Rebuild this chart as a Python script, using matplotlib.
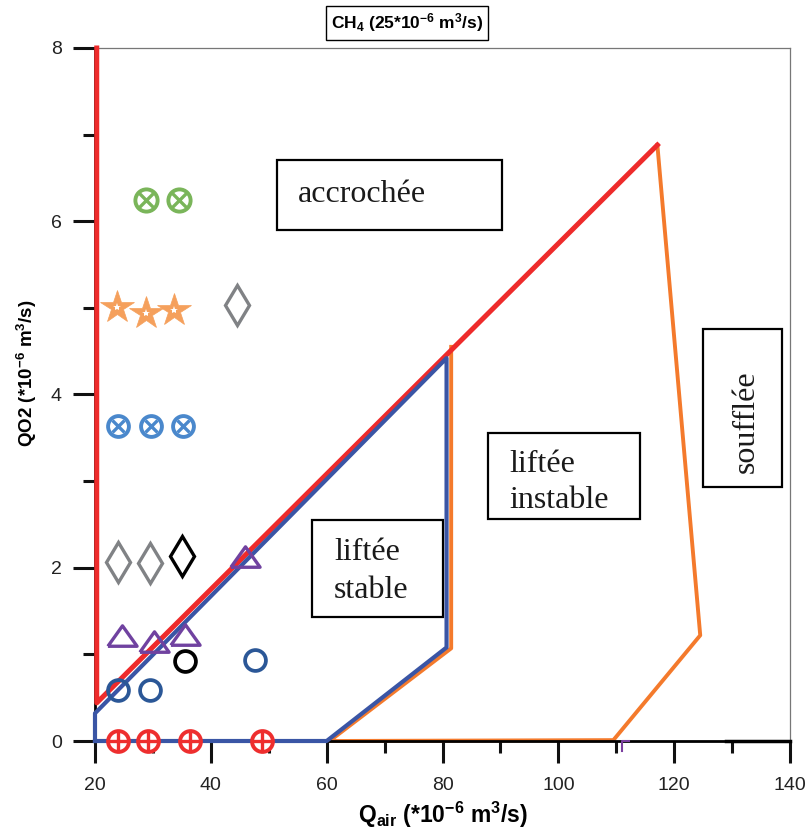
import numpy as np
import matplotlib
matplotlib.use("Agg")
import matplotlib.pyplot as plt
from matplotlib.patches import Rectangle
from matplotlib.ticker import MultipleLocator

plt.rcParams['font.family'] = ['Liberation Sans', 'DejaVu Sans']
plt.rcParams['mathtext.fontset'] = 'custom'
plt.rcParams['mathtext.rm'] = 'Liberation Sans'
plt.rcParams['mathtext.bf'] = 'Liberation Sans:bold'
plt.rcParams['mathtext.it'] = 'Liberation Sans:italic'

# ---- regime boundaries (Qair, QO2) ----
red_x = [20.3, 20.3, 117.1]
red_y = [8.0, 0.44, 6.88]
blue_x = [20.0, 20.0, 80.7, 80.7, 60.0, 20.0]
blue_y = [0.0, 0.32, 4.42, 1.08, 0.0, 0.0]
orange_x = [81.5, 81.5, 60.5, 109.5, 124.5, 117.1]
orange_y = [4.55, 1.07, 0.0, 0.01, 1.22, 6.88]

# ---- measured points ----
red_oplus_x = [24.0, 29.2, 36.4, 48.8]
red_oplus_y = [0.0, 0.0, 0.0, 0.0]
blue_circ_x = [24.0, 29.5, 47.6]
blue_circ_y = [0.59, 0.59, 0.94]
black_circ_x = [35.5]
black_circ_y = [0.92]
tri_x = [24.7, 30.2, 35.5, 45.9]
tri_y = [1.20, 1.13, 1.21, 2.11]
gray_dia_x = [24.0, 29.5, 44.5]
gray_dia_y = [2.07, 2.06, 5.03]
black_dia_x = [35.0]
black_dia_y = [2.14]
blue_otimes_x = [24.0, 29.7, 35.2]
blue_otimes_y = [3.64, 3.64, 3.64]
star_x = [23.8, 28.8, 33.6]
star_y = [5.01, 4.94, 4.97]
green_otimes_x = [28.8, 34.5]
green_otimes_y = [6.25, 6.25]

fig = plt.figure(figsize=(8.08, 8.30), dpi=100)
ax = fig.add_axes([95/808, 1-741/830, 695/808, 693/830])
ax.set_xlim(20, 140)
ax.set_ylim(0, 8)

# boundaries
ax.plot(orange_x, orange_y, color='#f47a2c', lw=2.8, zorder=2, clip_on=False)
ax.plot(red_x, red_y, color='#ee2b2b', lw=3.6, zorder=3, clip_on=False)
ax.plot(blue_x, blue_y, color='#3a55a5', lw=3.0, zorder=4, clip_on=False)
ax.plot([129, 140], [0, 0], color='black', lw=2.5, zorder=4, clip_on=False)
ax.plot([111, 111, 112.2], [-0.11, 0, 0], color='#7b3fa0', lw=1.5, zorder=4, clip_on=False)

# markers
def crossed(x, y, color, inner, size=15, k=0.75):
    ax.plot(x, y, 'o', ms=size, mfc='white', mec=color, mew=2.8, ls='none', zorder=6, clip_on=False)
    ax.plot(x, y, inner, ms=size*k, mec=color, mew=2.4, ls='none', zorder=7, clip_on=False)

crossed(red_oplus_x, red_oplus_y, '#ee2e2e', '+', k=0.85)
crossed(blue_otimes_x, blue_otimes_y, '#4a88cc', 'x', k=0.62)
crossed(green_otimes_x, green_otimes_y, '#7ab55a', 'x', size=16, k=0.62)

wide_tri = [(-1, -0.6), (1, -0.6), (0, 0.8), (-1, -0.6)]
ax.plot(blue_circ_x, blue_circ_y, 'o', ms=15, mfc='none', mec='#2b5797', mew=2.7, ls='none', zorder=6)
ax.plot(black_circ_x, black_circ_y, 'o', ms=15, mfc='none', mec='black', mew=2.7, ls='none', zorder=6)
ax.plot(tri_x, tri_y, marker=wide_tri, ms=21, mfc='none', mec='#7042a0', mew=2.4, ls='none', zorder=6)
ax.plot(gray_dia_x, gray_dia_y, 'd', ms=20, mfc='none', mec='#808285', mew=2.4, ls='none', zorder=6)
ax.plot(black_dia_x, black_dia_y, 'd', ms=20, mfc='none', mec='black', mew=2.4, ls='none', zorder=6)
ax.plot(star_x, star_y, '*', ms=25, mfc='#f5a05c', mec='#f5a05c', mew=0.5, ls='none', zorder=6)
ax.plot(star_x, star_y, '*', ms=6, mfc='white', mec='white', mew=0, ls='none', zorder=7)

# regime boxes
def px2d(px, py):
    return 20 + (px - 95) / 695 * 120, (741 - py) / 693 * 8

def box(x0, y0, x1, y1):
    a = px2d(x0, y1)
    b = px2d(x1, y0)
    ax.add_patch(Rectangle(a, b[0]-a[0], b[1]-a[1], fill=False, ec='black', lw=1.6, zorder=5))

serif = dict(family=['Liberation Serif', 'DejaVu Serif'], fontsize=23, color='#1a1a1a', zorder=6)
box(277, 160, 502, 230)
ax.text(*px2d(298, 202), 'accrochée', ha='left', va='baseline', **serif)
box(312, 520, 443, 617)
ax.text(*px2d(334, 560), 'liftée', ha='left', va='baseline', **serif)
ax.text(*px2d(334, 598), 'stable', ha='left', va='baseline', **serif)
box(488, 433, 640, 519)
ax.text(*px2d(509, 472), 'liftée', ha='left', va='baseline', **serif)
ax.text(*px2d(509, 508), 'instable', ha='left', va='baseline', **serif)
box(703, 329, 782, 487)
ax.text(*px2d(746, 422), 'soufflée', ha='center', va='center', rotation=90, **serif)

# axes styling
for s in ['left', 'bottom']:
    ax.spines[s].set_color('black')
    ax.spines[s].set_linewidth(2.0)
for s in ['top', 'right']:
    ax.spines[s].set_color('#777777')
    ax.spines[s].set_linewidth(0.9)

ax.xaxis.set_major_locator(MultipleLocator(20))
ax.xaxis.set_minor_locator(MultipleLocator(10))
ax.yaxis.set_major_locator(MultipleLocator(2))
ax.yaxis.set_minor_locator(MultipleLocator(1))
ax.tick_params(which='major', direction='out', length=16, width=2.2, color='#111111',
               labelsize=14, labelcolor='#222222')
ax.tick_params(which='minor', direction='out', length=8.5, width=2.2, color='#111111')
ax.tick_params(axis='x', which='major', pad=10)
ax.tick_params(axis='y', which='major', pad=8)

fig.text(443/808, 1-815/830, r'$\mathbf{Q_{air}}$ (*10$^{\mathbf{-6}}$ m$^{\mathbf{3}}$/s)',
         ha='center', va='center', fontsize=16.5, fontweight='bold')
fig.text(27/808, 1-373/830, r'QO2 (*10$^{\mathbf{-6}}$ m$^{\mathbf{3}}$/s)',
         ha='center', va='center', rotation=90, fontsize=13.5, fontweight='bold')
fig.text(407/808, 1-23/830, r'CH$_{\mathbf{4}}$ (25*10$^{\mathbf{-6}}$ m$^{\mathbf{3}}$/s)',
         ha='center', va='center', fontsize=12.5, fontweight='bold',
         bbox=dict(boxstyle='square,pad=0.3', fc='white', ec='black', lw=1.0))

fig.savefig('out.png', dpi=100)
